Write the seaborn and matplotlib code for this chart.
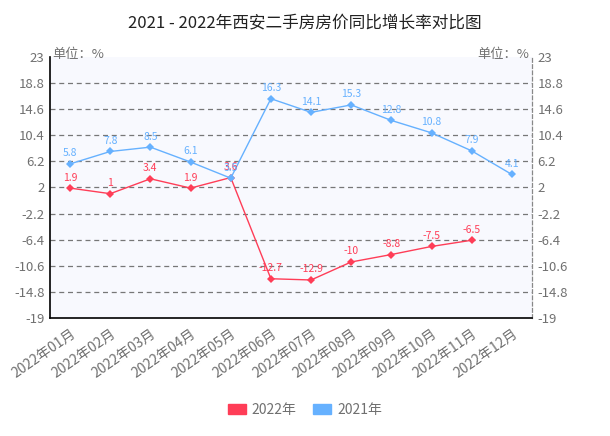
import pandas as pd
import matplotlib
matplotlib.use('Agg')
import matplotlib.pyplot as plt
import seaborn as sns

# --- données ---
months = ['2022年01月', '2022年02月', '2022年03月', '2022年04月', '2022年05月', '2022年06月',
          '2022年07月', '2022年08月', '2022年09月', '2022年10月', '2022年11月', '2022年12月']
val_2022 = [1.9, 1, 3.4, 1.9, 3.6, -12.7, -12.9, -10, -8.8, -7.5, -6.5, None]
val_2021 = [5.8, 7.8, 8.5, 6.1, 3.5, 16.3, 14.1, 15.3, 12.8, 10.8, 7.9, 4.1]
yticks = [23, 18.8, 14.6, 10.4, 6.2, 2, -2.2, -6.4, -10.6, -14.8, -19]

red = '#FF3D57'
blue = '#66B1FF'
grey = '#707070'

sns.set_theme(style='white')
plt.rcParams['font.family'] = ['Noto Sans CJK SC', 'DejaVu Sans']
plt.rcParams['axes.unicode_minus'] = False

df = pd.DataFrame({'month': months * 2,
                   'x': list(range(12)) * 2,
                   'val': val_2022 + val_2021,
                   'serie': ['2022年'] * 12 + ['2021年'] * 12}).dropna()

fig = plt.figure(figsize=(6.1, 4.36), dpi=100)
ax = fig.add_axes([0.082, 0.271, 0.79, 0.598])
ax.set_facecolor('#F8F9FE')

sns.lineplot(data=df, x='x', y='val', hue='serie', palette={'2022年': red, '2021年': blue},
             marker='D', markersize=4, markeredgewidth=0, linewidth=1, ax=ax, legend=False)

# étiquettes des valeurs
for vals, col in [(val_2022, red), (val_2021, blue)]:
    for i, v in enumerate(vals):
        if v is None:
            continue
        ax.annotate(f'{v:g}', (i, v), xytext=(0, 4), textcoords='offset points',
                    ha='center', va='bottom', fontsize=7.5, color=col)

ax.set_xlim(-0.5, 11.5)
ax.set_ylim(-19, 23)
ax.set_xticks(range(12))
ax.set_xticklabels(months, rotation=35, ha='right', rotation_mode='anchor')
ax.set_yticks(yticks)
ax.set_yticklabels([f'{t:g}' for t in yticks])
ax.tick_params(axis='x', colors=grey, labelsize=10, length=3, width=0.8, pad=3)
ax.tick_params(axis='y', colors=grey, labelsize=9.5, length=0, pad=4)
for t in ax.get_xticklabels():
    t.set_color(grey)

for t in yticks[1:-1]:
    ax.axhline(t, color='#777777', linestyle=(0, (4, 3)), linewidth=0.9, zorder=0)

ax.spines['top'].set_visible(False)
ax.spines['left'].set_color('black')
ax.spines['bottom'].set_color('black')
ax.spines['left'].set_linewidth(1.2)
ax.spines['bottom'].set_linewidth(1.2)
ax.spines['right'].set_color('#888888')
ax.spines['right'].set_linestyle((0, (3, 2)))
ax.spines['right'].set_linewidth(0.9)

ax2 = ax.twinx()
ax2.set_ylim(-19, 23)
ax2.set_yticks(yticks)
ax2.set_yticklabels([f'{t:g}' for t in yticks])
ax2.tick_params(axis='y', colors=grey, labelsize=9.5, length=0, pad=4)
for s in ax2.spines.values():
    s.set_visible(False)

ax.set_xlabel('')
ax.set_ylabel('')
ax2.set_ylabel('')

fig.text(0.086, 0.874, '单位：%', color=grey, fontsize=9.5, ha='left', va='center')
fig.text(0.868, 0.874, '单位：%', color=grey, fontsize=9.5, ha='right', va='center')
fig.suptitle('2021 - 2022年西安二手房房价同比增长率对比图', y=0.968, fontsize=12, color='#222222')

handles = [plt.Rectangle((0, 0), 1, 1, color=red), plt.Rectangle((0, 0), 1, 1, color=blue)]
fig.legend(handles, ['2022年', '2021年'], loc='center', bbox_to_anchor=(0.5, 0.06), ncol=2,
           frameon=False, fontsize=10, handlelength=1.3, handleheight=0.8, columnspacing=1.2,
           handletextpad=0.4, labelcolor=grey)

plt.savefig('out.png', dpi=100)
